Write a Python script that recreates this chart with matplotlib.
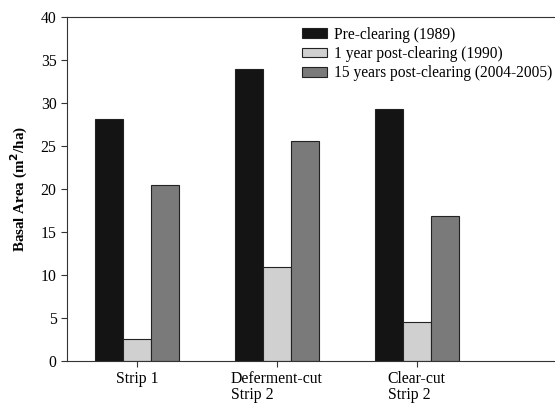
import matplotlib
matplotlib.use("Agg")
import matplotlib.pyplot as plt
import numpy as np

categories = ["Strip 1", "Deferment-cut\nStrip 2", "Clear-cut\nStrip 2"]
series_names = ["Pre-clearing (1989)", "1 year post-clearing (1990)", "15 years post-clearing (2004-2005)"]
pre = [28.1, 34.0, 29.3]
post1 = [2.6, 10.9, 4.5]
post15 = [20.5, 25.6, 16.9]
colors = ["#141414", "#d0d0d0", "#7a7a7a"]

plt.rcParams['font.family'] = ['Liberation Serif', 'DejaVu Serif']
fig = plt.figure(figsize=(5.55, 4.03), dpi=100)
ax = fig.add_axes([67/555, 1-361/403, (555-67)/555, (361-17)/403])

x = np.arange(len(categories))
w = 0.2
for i, (vals, name, c) in enumerate(zip([pre, post1, post15], series_names, colors)):
    ax.bar(x + (i-1)*w, vals, w, color=c, edgecolor="#222222", linewidth=0.8, label=name)

ax.set_xlim(-0.5, 2.99)
ax.set_ylim(0, 40)
ax.set_yticks(range(0, 41, 5))
ax.set_xticks(x)
ax.set_xticklabels(categories, multialignment='left', linespacing=1.05)
ax.tick_params(axis='both', labelsize=11.3, direction='out', length=4, color="#333333")
ax.tick_params(axis='x', pad=3)
ax.spines['right'].set_visible(False)
for s in ['left', 'top', 'bottom']:
    ax.spines[s].set_color("#333333")
ax.set_ylabel("Basal Area (m$^{\\mathbf{2}}$/ha)", fontsize=10.8, fontweight='bold', labelpad=8)
leg = ax.legend(loc='upper left', bbox_to_anchor=(0.481, 0.972), frameon=False, fontsize=11.2,
                borderpad=0, borderaxespad=0,
                handlelength=1.6, handleheight=0.55, labelspacing=0.22, handletextpad=0.45)
fig.savefig("out.png", dpi=100)
